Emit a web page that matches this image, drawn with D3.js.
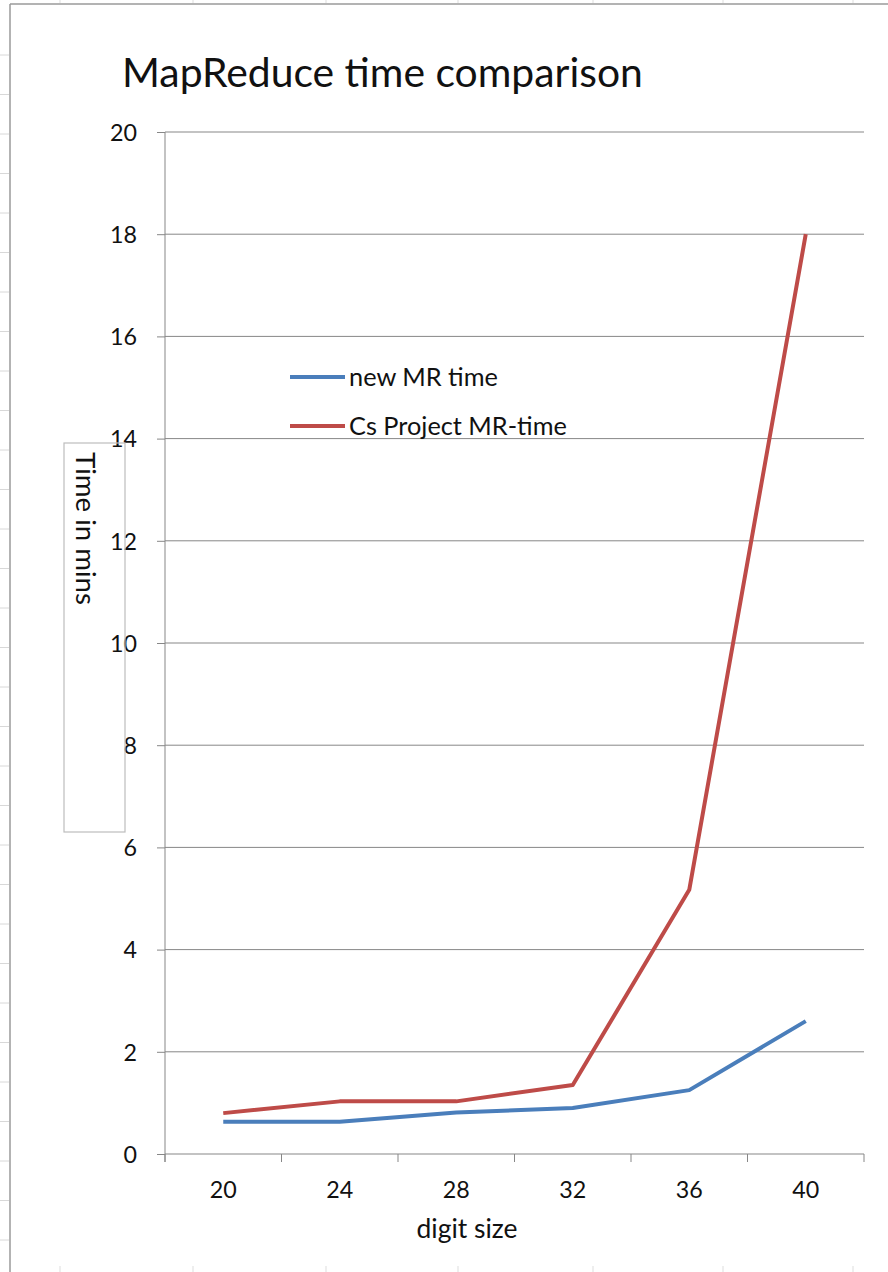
<!DOCTYPE html>
<html>
<head>
<meta charset="utf-8">
<script src="https://cdn.jsdelivr.net/npm/d3@7"></script>
<style>
  html, body { margin: 0; padding: 0; background: #fff; overflow: hidden; }
  svg { display: block; }
  text { font-family: Lato, "Open Sans", sans-serif; fill: #111; }
</style>
</head>
<body>
<script>
// ---- data ----
const categories = ["20", "24", "28", "32", "36", "40"];
const newMRTime = [0.63, 0.63, 0.81, 0.9, 1.25, 2.6];
const csProjectMRTime = [0.8, 1.03, 1.03, 1.35, 5.17, 18.0];
const seriesNames = ["new MR time", "Cs Project MR-time"];
const yTicks = [0, 2, 4, 6, 8, 10, 12, 14, 16, 18, 20];
const titleText = "MapReduce time comparison";
const xTitle = "digit size";
const yTitle = "Time in mins";

// ---- layout ----
const W = 888, H = 1272;
const plot = { left: 165, right: 864, top: 132, bottom: 1154 };
const colors = ["#4A7EBB", "#BE4B48"];
const gridColor = "#878787";

const svg = d3.select("body").append("svg").attr("width", W).attr("height", H);

// size a text so that its width matches a target
function fit(sel, target, base) {
  sel.attr("font-size", base);
  const w = sel.node().getComputedTextLength();
  sel.attr("font-size", base * target / w);
  return base * target / w;
}

// measure tick label font size: "20" about 27px wide
const probe = svg.append("text").text("20");
const tickFont = fit(probe, 27, 20);
probe.remove();

// frame of the screenshot (spreadsheet edges)
const frame = svg.append("g");
frame.append("line").attr("x1", 10).attr("x2", 10).attr("y1", 4).attr("y2", H)
  .attr("stroke", "#9a9a9a").attr("stroke-width", 1.5);
frame.append("line").attr("x1", 10).attr("x2", W).attr("y1", 4).attr("y2", 4)
  .attr("stroke", "#9a9a9a").attr("stroke-width", 1.5);
d3.range(55, H, 39.5).forEach(y => {
  frame.append("line").attr("x1", 0).attr("x2", 9).attr("y1", y).attr("y2", y)
    .attr("stroke", "#d8d8d8").attr("stroke-width", 1);
});
[60, 193, 326, 458, 593, 723, 853].forEach(x => {
  frame.append("line").attr("x1", x).attr("x2", x).attr("y1", 0).attr("y2", 3)
    .attr("stroke", "#dddddd").attr("stroke-width", 1);
  frame.append("line").attr("x1", x).attr("x2", x).attr("y1", 1266).attr("y2", H)
    .attr("stroke", "#dddddd").attr("stroke-width", 1);
});

// ---- scales ----
const x = d3.scaleBand().domain(categories).range([plot.left, plot.right]).padding(0);
const y = d3.scaleLinear().domain([0, 20]).range([plot.bottom, plot.top]);
const cx = c => x(c) + x.bandwidth() / 2;

// gridlines
svg.append("g").selectAll("line").data(yTicks.filter(v => v > 0)).join("line")
  .attr("x1", plot.left).attr("x2", plot.right)
  .attr("y1", d => y(d)).attr("y2", d => y(d))
  .attr("stroke", gridColor).attr("stroke-width", 1);

// y axis
const yAxis = svg.append("g").attr("transform", `translate(${plot.left},0)`)
  .call(d3.axisLeft(y).tickValues(yTicks).tickSize(8).tickPadding(20).tickFormat(d3.format("d")));
yAxis.select(".domain").attr("stroke", gridColor).attr("d", `M0,${plot.top}V${plot.bottom + 8}`);
yAxis.selectAll(".tick line").attr("stroke", gridColor);
yAxis.selectAll(".tick text").attr("font-size", tickFont).attr("fill", "#111")
  .attr("font-family", "Lato, sans-serif").attr("x", -28).attr("dy", "0.36em");

// x axis
const xAxis = svg.append("g").attr("transform", `translate(0,${plot.bottom})`)
  .call(d3.axisBottom(x).tickSize(0).tickPadding(0));
xAxis.select(".domain").attr("stroke", gridColor).attr("d", `M${plot.left},0H${plot.right}`);
xAxis.selectAll(".tick text").attr("font-size", tickFont).attr("fill", "#111")
  .attr("font-family", "Lato, sans-serif").attr("y", 44).attr("dy", 0);
// category boundary ticks
const edges = categories.map(c => x(c)).concat([plot.right]);
xAxis.append("g").selectAll("line").data(edges).join("line")
  .attr("x1", d => d).attr("x2", d => d).attr("y1", 0).attr("y2", 8)
  .attr("stroke", gridColor).attr("stroke-width", 1);

// ---- series ----
const line = d3.line().x((d, i) => cx(categories[i])).y(d => y(d));
[newMRTime, csProjectMRTime].forEach((s, i) => {
  svg.append("path").datum(s).attr("d", line)
    .attr("fill", "none").attr("stroke", colors[i]).attr("stroke-width", 4)
    .attr("stroke-linejoin", "round").attr("stroke-linecap", "butt");
});

// ---- title ----
const t = svg.append("text").attr("x", 122).attr("y", 87).text(titleText);
fit(t, 521, 38);

// x title
const xt = svg.append("text").attr("x", 467).attr("y", 1238).attr("text-anchor", "middle").text(xTitle);
fit(xt, 101, 21);

// y title box + text
svg.append("rect").attr("x", 64).attr("y", 443).attr("width", 61).attr("height", 389)
  .attr("fill", "none").attr("stroke", "#bdbdbd").attr("stroke-width", 1.2);
const yt = svg.append("text").attr("transform", "translate(76,452) rotate(90)").text(yTitle);
fit(yt, 153, 20);

// ---- legend ----
const legend = svg.append("g");
const legY = [377, 426];
const legW = [149, 218];
seriesNames.forEach((n, i) => {
  legend.append("line").attr("x1", 290).attr("x2", 345).attr("y1", legY[i]).attr("y2", legY[i])
    .attr("stroke", colors[i]).attr("stroke-width", 4);
  const lt = legend.append("text").attr("x", 349).attr("y", legY[i]).attr("dy", "0.35em").text(n);
  fit(lt, legW[i], 20);
});
</script>
</body>
</html>
